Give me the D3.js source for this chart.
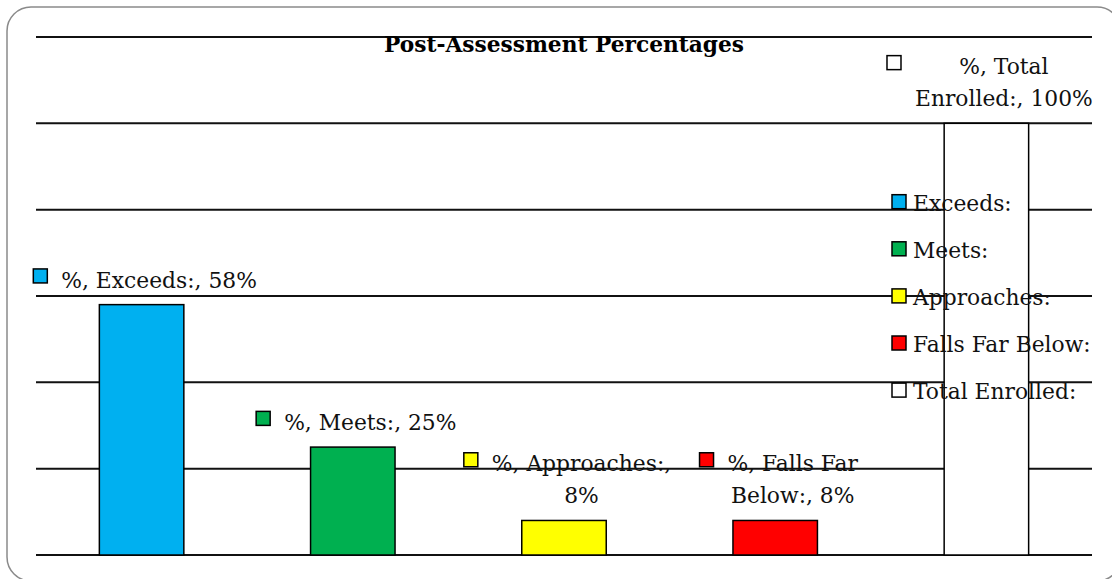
<!DOCTYPE html>
<html lang="en">
<head>
    <meta charset="UTF-8">
    <title>Post-Assessment Percentages</title>
    <script src="https://d3js.org/d3.v7.min.js"></script>
    <style>
        body { margin: 0; background: #fff; overflow: hidden; }
        svg { display: block; font-family: 'DejaVu Serif', serif; }
    </style>
</head>
<body>
    <svg width="1112" height="579"></svg>

    <script>
        // chart data
        const categories = ["Exceeds:", "Meets:", "Approaches:", "Falls Far Below:", "Total Enrolled:"];
        const values = [58, 25, 8, 8, 100];
        const colors = ["#00B0F0", "#00B050", "#FFFF00", "#FF0000", "#FFFFFF"];
        const labelLines = [
            ["%, Exceeds:, 58%"],
            ["%, Meets:, 25%"],
            ["%, Approaches:,", "8%"],
            ["%, Falls Far", "Below:, 8%"],
            ["%, Total", "Enrolled:, 100%"]
        ];
        const yTicks = [0, 20, 40, 60, 80, 100, 120];

        const width = 1112, height = 579;
        const margin = { left: 36, right: 20, top: 37, bottom: 24 };
        const svg = d3.select("svg");

        // outer rounded border (runs off the right/bottom edge)
        svg.append("rect")
            .attr("x", 7).attr("y", 7)
            .attr("width", 1114).attr("height", 574)
            .attr("rx", 24).attr("ry", 24)
            .attr("fill", "#fff")
            .attr("stroke", "#8a8a8a")
            .attr("stroke-width", 1.5);

        const x = d3.scaleBand()
            .domain(categories)
            .range([margin.left, width - margin.right])
            .paddingInner(0.6)
            .paddingOuter(0.3);

        const y = d3.scaleLinear()
            .domain([0, 120])
            .range([height - margin.bottom, margin.top]);

        // gridlines
        svg.append("g")
            .selectAll("line")
            .data(yTicks)
            .join("line")
            .attr("x1", margin.left)
            .attr("x2", width - margin.right)
            .attr("y1", d => y(d))
            .attr("y2", d => y(d))
            .attr("stroke", "#111")
            .attr("stroke-width", 2);

        // title
        svg.append("text")
            .attr("x", (margin.left + width - margin.right) / 2)
            .attr("y", 52)
            .attr("text-anchor", "middle")
            .attr("font-weight", "bold")
            .attr("font-size", 21.7)
            .text("Post-Assessment Percentages");

        // bars
        svg.append("g")
            .selectAll("rect")
            .data(categories)
            .join("rect")
            .attr("x", d => x(d))
            .attr("y", (d, i) => y(values[i]))
            .attr("width", x.bandwidth())
            .attr("height", (d, i) => y(0) - y(values[i]))
            .attr("fill", (d, i) => colors[i])
            .attr("stroke", "#000")
            .attr("stroke-width", 1.5);

        // data labels: marker square + centred text block
        const fontSize = 21.8, lineH = 32, box = 14, gap = 14;
        categories.forEach((c, i) => {
            const g = svg.append("g");
            const lines = labelLines[i];
            const lastBase = y(values[i]) - 17;
            const firstBase = lastBase - (lines.length - 1) * lineH;

            const texts = g.selectAll("text")
                .data(lines)
                .join("text")
                .attr("font-size", fontSize)
                .attr("text-anchor", "middle")
                .attr("y", (d, j) => firstBase + j * lineH)
                .attr("fill", "#111")
                .text(d => d);

            let blockW = 0;
            texts.each(function() { blockW = Math.max(blockW, this.getComputedTextLength()); });
            const total = box + gap + blockW;
            const cx = x(c) + x.bandwidth() / 2 + 3.5;
            const left = cx - total / 2;
            texts.attr("x", left + box + gap + blockW / 2);

            g.append("rect")
                .attr("x", left)
                .attr("y", firstBase - 11.7 - box / 2)
                .attr("width", box).attr("height", box)
                .attr("fill", colors[i])
                .attr("stroke", "#000")
                .attr("stroke-width", 1.5);
        });

        // legend
        const legend = svg.append("g");
        categories.forEach((c, i) => {
            const cy = 201.7 + i * 47.1;
            legend.append("rect")
                .attr("x", 892).attr("y", cy - box / 2)
                .attr("width", box).attr("height", box)
                .attr("fill", colors[i])
                .attr("stroke", "#000")
                .attr("stroke-width", 1.5);
            legend.append("text")
                .attr("x", 913).attr("y", cy + 9)
                .attr("font-size", fontSize)
                .attr("fill", "#111")
                .text(c);
        });
    </script>
</body>
</html>
